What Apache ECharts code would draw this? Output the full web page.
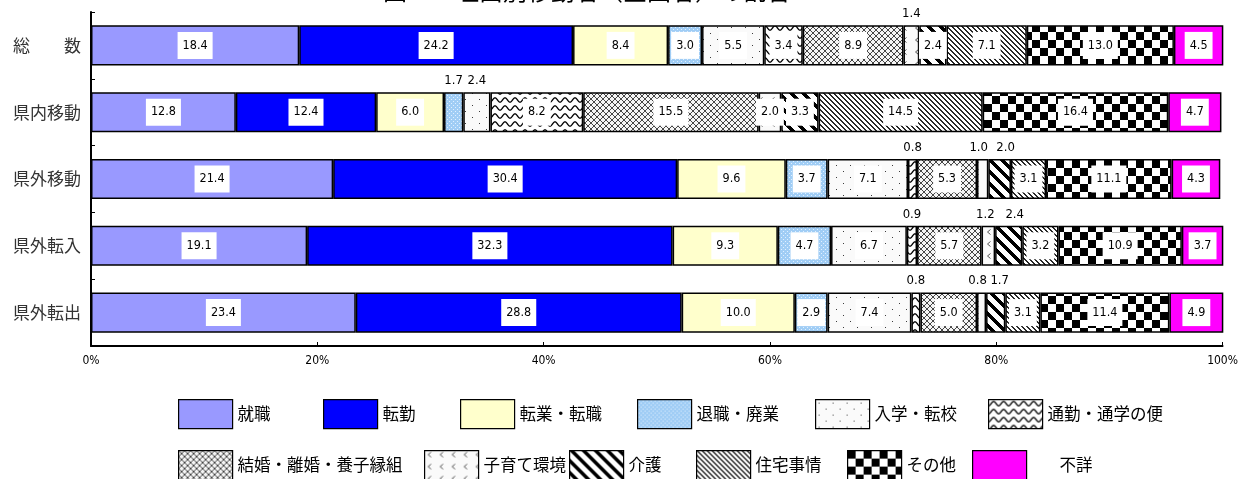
<!DOCTYPE html>
<html>
<head>
<meta charset="utf-8">
<script src="https://cdn.jsdelivr.net/npm/echarts@6/dist/echarts.min.js"></script>
<style>
html,body{margin:0;padding:0;background:#fff;}
#chart{width:1241px;height:479px;}
</style>
</head>
<body>
<div id="chart"></div>
<script>
// ---- data ----
const titleText = '図１　理由別移動者（全国者）の割合';
const categories = ['総　　数', '県内移動', '県外移動', '県外転入', '県外転出'];
const seriesNames = ['就職', '転勤', '転業・転職', '退職・廃業', '入学・転校', '通勤・通学の便',
  '結婚・離婚・養子縁組', '子育て環境', '介護', '住宅事情', 'その他', '不詳'];
const v_shushoku = [18.4, 12.8, 21.4, 19.1, 23.4];
const v_tenkin   = [24.2, 12.4, 30.4, 32.3, 28.8];
const v_tengyo   = [8.4, 6.0, 9.6, 9.3, 10.0];
const v_taishoku = [3.0, 1.7, 3.7, 4.7, 2.9];
const v_nyugaku  = [5.5, 2.4, 7.1, 6.7, 7.4];
const v_tsukin   = [3.4, 8.2, 0.8, 0.9, 0.8];
const v_kekkon   = [8.9, 15.5, 5.3, 5.7, 5.0];
const v_kosodate = [1.4, 2.0, 1.0, 1.2, 0.8];
const v_kaigo    = [2.4, 3.3, 2.0, 2.4, 1.7];
const v_jutaku   = [7.1, 14.5, 3.1, 3.2, 3.1];
const v_sonota   = [13.0, 16.4, 11.1, 10.9, 11.4];
const v_fusho    = [4.5, 4.7, 4.3, 3.7, 4.9];
const allValues = [v_shushoku, v_tenkin, v_tengyo, v_taishoku, v_nyugaku, v_tsukin,
  v_kekkon, v_kosodate, v_kaigo, v_jutaku, v_sonota, v_fusho];
const xTicks = [0, 20, 40, 60, 80, 100];
// labels drawn above the bar: [categoryIndex, seriesIndex, horizontal nudge px]
const labelsAbove = [[0,7,0],[1,3,0],[1,4,0],[2,5,0],[2,7,-4],[2,8,6],[3,5,0],[3,7,-3],[3,8,6],[4,5,0],[4,7,-4],[4,8,4]];

// ---- patterns ----
function pix(w, h, fn) {
  const c = document.createElement('canvas'); c.width = w; c.height = h;
  const ctx = c.getContext('2d'); const img = ctx.createImageData(w, h);
  for (let y = 0; y < h; y++) for (let x = 0; x < w; x++) {
    const col = fn(x, y); const i = (y * w + x) * 4;
    img.data[i] = col[0]; img.data[i+1] = col[1]; img.data[i+2] = col[2]; img.data[i+3] = 255;
  }
  ctx.putImageData(img, 0, 0); return c;
}
function drawn(w, h, bg, fn) {
  const c = document.createElement('canvas'); c.width = w; c.height = h;
  const ctx = c.getContext('2d'); ctx.fillStyle = bg; ctx.fillRect(0, 0, w, h); fn(ctx); return c;
}
const W = [255,255,255], K = [0,0,0];
const patBlueDots = pix(4, 4, (x,y) => ((x===1&&y===1)||(x===3&&y===3)) ? [225,240,255] : [160,205,245]);
const patSparseDots = pix(14, 12, (x,y) => ((x===3&&y===3)||(x===10&&y===9)) ? [60,60,60] : [250,250,250]);
const patWave = drawn(10, 8, '#fff', ctx => {
  ctx.strokeStyle = '#000'; ctx.lineWidth = 1.3; ctx.beginPath();
  for (let x = -1; x <= 11; x += 0.5) { const y = 4 + 2.2 * Math.cos(x / 10 * Math.PI * 2); if (x === -1) ctx.moveTo(x, y); else ctx.lineTo(x, y); }
  ctx.stroke();
});
const patLattice = pix(6, 6, (x,y) => (x===y || x===5-y) ? [70,70,70] : [245,245,245]);
const patChevron = drawn(12, 12, '#fafafa', ctx => {
  ctx.strokeStyle = '#555'; ctx.lineWidth = 1; ctx.beginPath();
  ctx.moveTo(6.5, 1.5); ctx.lineTo(3.5, 4); ctx.lineTo(6.5, 6.5); ctx.stroke();
});
const patThick = pix(12, 12, (x,y) => (((x - y) % 12 + 12) % 12) < 5 ? K : W);
const patThin = pix(5, 5, (x,y) => (((x - y) % 5 + 5) % 5) < 2 ? [40,40,40] : W);
const patChecker = pix(16, 16, (x,y) => ((Math.floor(x/8) + Math.floor(y/8)) % 2 === 0) ? K : W);
const pat = c => ({ image: c, repeat: 'repeat' });
const colors = ['#9999ff', '#0000ff', '#ffffcc', pat(patBlueDots), pat(patSparseDots), pat(patWave),
  pat(patLattice), pat(patChevron), pat(patThick), pat(patThin), pat(patChecker), '#ff00ff'];

// ---- legend positions ----
const legendPos = [
  [178, 399], [323, 399], [460, 399], [637, 399], [815, 399], [988, 399],
  [178, 450], [424, 450], [569, 450], [696, 450], [847, 450], [972, 450]
];
const legendTextPad = [0,0,0,0,0,0,0,0,0,0,[8,0,0,0],[0,0,0,28]];

const numFont = "'Liberation Sans Narrow','DejaVu Sans Condensed','Liberation Sans',sans-serif";
const jpFont = "'Noto Sans CJK JP','Noto Sans CJK SC',sans-serif";

const series = seriesNames.map((name, s) => ({
  name, type: 'bar', stack: 'total', barWidth: '60%',
  itemStyle: { color: colors[s], borderColor: '#000', borderWidth: 1.5 },
  label: {
    show: true, position: 'inside', color: '#000', fontSize: 12.5, fontFamily: numFont,
    backgroundColor: '#fff', padding: [7, 5],
    formatter: p => Number(p.value).toFixed(1)
  },
  data: allValues[s].map((v, c) => {
    const a = labelsAbove.find(a => a[0] === c && a[1] === s);
    return a ? { value: v, label: { position: 'top', backgroundColor: 'transparent', padding: 0, distance: 5, offset: [a[2], 0], fontSize: 13 } } : v;
  })
}));

const legends = seriesNames.map((name, s) => ({
  data: [name], left: legendPos[s][0], top: legendPos[s][1], orient: 'horizontal', padding: 0,
  icon: 'rect', itemWidth: 54, itemHeight: 29, selectedMode: false,
  itemStyle: { borderColor: '#000', borderWidth: 1.2 },
  textStyle: { fontSize: 16.5, color: '#000', fontFamily: jpFont, padding: legendTextPad[s] }
}));

const chart = echarts.init(document.getElementById('chart'), null, { renderer: 'canvas' });
chart.setOption({
  backgroundColor: '#fff',
  animation: false,
  title: { text: titleText, left: 378, top: -26,
    textStyle: { fontSize: 24, fontWeight: 'normal', color: '#000', fontFamily: jpFont } },
  legend: legends,
  grid: { left: 91, right: 15, top: 12, bottom: 133, containLabel: false },
  xAxis: {
    type: 'value', min: 0, max: 100, interval: 20,
    axisLine: { show: true, lineStyle: { color: '#000', width: 2 } },
    axisTick: { show: true, inside: true, length: 4, lineStyle: { color: '#000' } },
    splitLine: { show: false },
    axisLabel: { formatter: v => xTicks.includes(v) ? v + '%' : '', fontSize: 12, color: '#000', fontFamily: numFont, margin: 9 }
  },
  yAxis: {
    type: 'category', data: categories, inverse: true,
    axisLine: { show: true, lineStyle: { color: '#000', width: 2 } },
    axisTick: { show: true, inside: true, length: 4, lineStyle: { color: '#000' } },
    axisLabel: { fontSize: 17, color: '#333', fontFamily: jpFont, margin: 10 }
  },
  series
});
</script>
</body>
</html>
